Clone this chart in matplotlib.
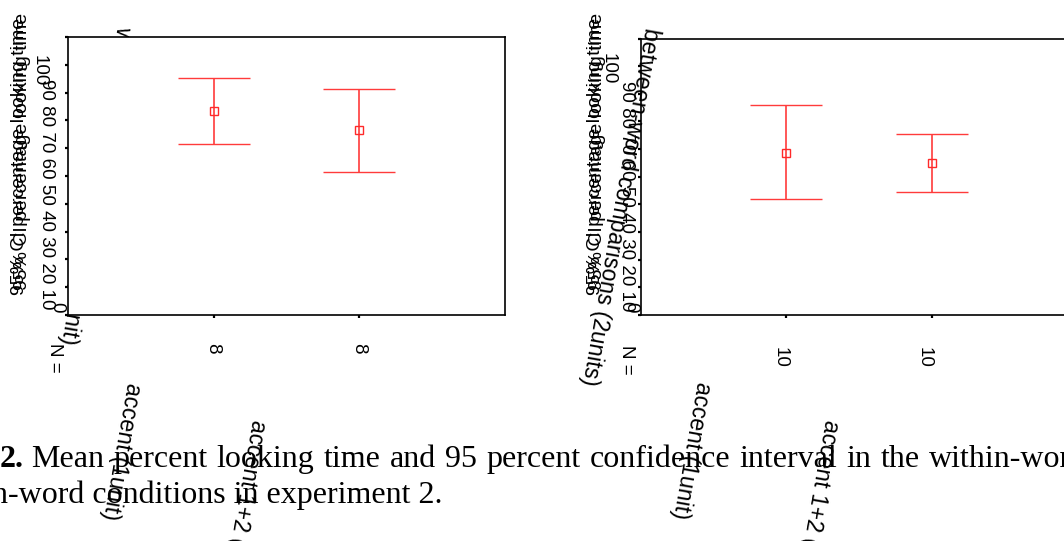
import numpy as np
import matplotlib
matplotlib.use("Agg")
import matplotlib.pyplot as plt

# ---------------- data ----------------
within_labels = ["accent (1unit)", "accent 1+2 (2units)"]
within_n = ["8", "8"]
within_mean = np.array([73.5, 66.4])
within_upper = np.array([85.4, 81.4])
within_lower = np.array([61.4, 51.5])

between_labels = ["accent (1unit)", "accent 1+2 (2units)"]
between_n = ["10", "10"]
between_mean = np.array([58.7, 54.9])
between_upper = np.array([75.9, 65.6])
between_lower = np.array([42.0, 44.6])

ytick_vals = list(range(0, 101, 10))
tick_string = "90 80 70 60 50 40 30 20 10"
ylabel_text = "95% CI percentage looking time"
within_title = "within-word comparisons (1unit)"
between_title = "between-word comparisons (2units)"
caption_bold = "2."
caption_line1 = "Mean percent looking time and 95 percent confidence interval in the within-word and between-"
caption_line2 = "n-word conditions in experiment 2."

W, H = 1064, 541
fig = plt.figure(figsize=(W / 100, H / 100), dpi=100)
fig.patch.set_facecolor("white")


def fx(x):
    return x / W


def fy(y):
    return 1 - y / H


def make_axes(left, top, right, bottom):
    ax = fig.add_axes([fx(left), fy(bottom), (right - left) / W, (bottom - top) / H])
    ax.set_facecolor("white")
    ax.set_xlim(0, 3)
    ax.set_ylim(0, 100)
    ax.set_yticks(ytick_vals)
    ax.set_xticks([1, 2])
    ax.tick_params(axis="both", direction="out", length=2.5, width=1.6,
                   labelleft=False, labelbottom=False, color="black")
    for s in ax.spines.values():
        s.set_linewidth(1.2)
        s.set_color("black")
    return ax


def draw_bars(ax, mean, lower, upper):
    x = np.arange(1, len(mean) + 1)
    ax.errorbar(x, mean, yerr=[mean - lower, upper - mean], fmt="s",
                mfc="none", mec="#ff2a2a", ms=6, mew=1.0,
                ecolor="#ff3b3b", elinewidth=1.2, capsize=26, capthick=1.2,
                zorder=3)


ax1 = make_axes(68, 37, 505, 315)
draw_bars(ax1, within_mean, within_lower, within_upper)

ax2 = make_axes(641, 38.5, 1077, 315)
draw_bars(ax2, between_mean, between_lower, between_upper)

sans = "Liberation Sans"
rot = -100

# panel titles (left one lies behind its axes, right one on top)
fig.text(fx(135), fy(24), within_title, rotation=rot, ha="right", va="top",
         fontsize=16.5, family=sans, zorder=-5)
fig.text(fx(663), fy(26), between_title, rotation=rot, ha="right", va="top",
         fontsize=16.5, family=sans, zorder=10)

# y labels (doubled / garbled)
for xc in (20, 595):
    for dx, dy in ((0, 0), (3, -5)):
        fig.text(fx(xc + dx), fy(156 + dy), ylabel_text, rotation=90,
                 ha="center", va="center", fontsize=14, family=sans)

# tick label strings
for xc, top100, topstr, x0 in ((39, 55, 79, 57), (608, 53, 81, 631)):
    fig.text(fx(xc), fy(top100), "100", rotation=-90, ha="center", va="top",
             fontsize=13.5, family=sans)
    fig.text(fx(xc + 7 if xc < 100 else xc + 18), fy(topstr), tick_string,
             rotation=-90, ha="center", va="top", fontsize=13.5, family=sans)
    fig.text(fx(x0), fy(302), "0", rotation=-90, ha="center", va="top",
             fontsize=13.5, family=sans)

# N = and counts
fig.text(fx(54), fy(343), "N =", rotation=-90, ha="center", va="top",
         fontsize=13.5, family=sans)
fig.text(fx(627), fy(345), "N =", rotation=-90, ha="center", va="top",
         fontsize=13.5, family=sans)
for xc, lab in zip((213, 359), within_n):
    fig.text(fx(xc), fy(343), lab, rotation=-90, ha="center", va="top",
             fontsize=13.5, family=sans)
for xc, lab in zip((780, 924), between_n):
    fig.text(fx(xc), fy(347), lab, rotation=-90, ha="center", va="top",
             fontsize=13.5, family=sans)

# category labels
for (xs, ys), lab in zip(((145, 381), (270, 418)), within_labels):
    fig.text(fx(xs), fy(ys), lab, rotation=rot, ha="right", va="top",
             fontsize=16.5, family=sans)
for (xs, ys), lab in zip(((715, 380), (843, 418)), between_labels):
    fig.text(fx(xs), fy(ys), lab, rotation=rot, ha="right", va="top",
             fontsize=16.5, family=sans)

# caption (first line justified: extra word spacing)
serif = "Liberation Serif"
cap_fs = 23
renderer = fig.canvas.get_renderer()
fig.text(fx(0), fy(467), caption_bold, ha="left", va="baseline",
         fontsize=cap_fs, family=serif, fontweight="bold")
probe = fig.text(0, 0, "a a", fontsize=cap_fs, family=serif)
w_aa = probe.get_window_extent(renderer).width
probe.set_text("aa")
space_w = w_aa - probe.get_window_extent(renderer).width
probe.remove()
xcur = 31.0
for word in caption_line1.split(" "):
    t = fig.text(fx(xcur), fy(467), word, ha="left", va="baseline",
                 fontsize=cap_fs, family=serif)
    xcur = t.get_window_extent(renderer).x1 + space_w + 1.2
fig.text(fx(-8), fy(503), caption_line2, ha="left", va="baseline",
         fontsize=cap_fs, family=serif)

fig.savefig("out.png", dpi=100)
